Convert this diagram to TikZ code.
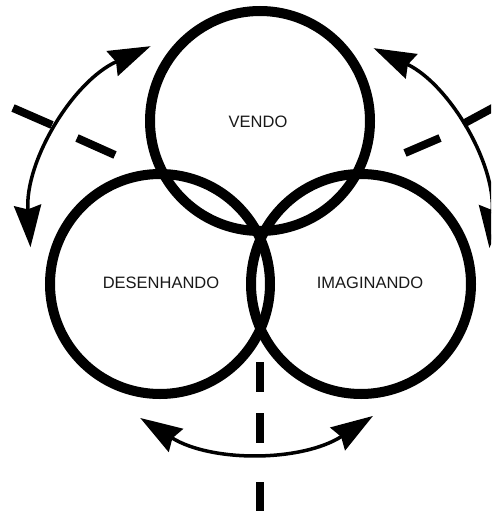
\documentclass[tikz,border=0pt]{standalone}
\usepackage{fontspec}
\setmainfont{Liberation Sans}
\usetikzlibrary{arrows.meta,calc}
\begin{document}
\begin{tikzpicture}[x=1pt,y=-1pt,
  ring/.style={circle, draw=black, line width=10pt, minimum size=220pt, inner sep=0pt},
  lbl/.style={font=\fontsize{16.5}{18}\selectfont, text=black!90, inner sep=0pt},
  cut/.style={line width=8pt, line cap=butt},
  swing/.style={line width=3.5pt, >={Stealth[length=42pt,width=27pt,inset=4pt]}, <->}]
\useasboundingbox (0,0) rectangle (491,511);
\clip (0,0) rectangle (491,511);
\fill[white] (0,0) rectangle (491,511);
% circles
\node[ring] (vendo) at (260,121) {};
\node[ring] (desenhando) at (160,284) {};
\node[ring] (imaginando) at (361,284) {};
% labels
\node[lbl] (tv) at (258,122) {VENDO};
\node[lbl] (td) at (161,283) {DESENHANDO};
\node[lbl] (ti) at (370,283) {IMAGINANDO};
% dashed dividers
\draw[cut] (13,108) -- (52,125);
\draw[cut] (77,138) -- (115,155);
\draw[cut] (405,153) -- (440,138);
\draw[cut] (463,124) -- (500,104);
\draw[cut] (260,362) -- (260,392);
\draw[cut] (260,413) -- (260,443);
\draw[cut] (260,482) -- (260,520);
% curved double arrows
\coordinate (lc) at (235,233);
\coordinate (rc) at (285,233);
\coordinate (bc) at (255,235);
\draw[swing] ($(lc)+(-114.3:205)$) arc[start angle=-114.3, end angle=-184, radius=205];
\draw[swing] ($(rc)+(-64.4:205)$) arc[start angle=-64.4, end angle=4.2, radius=205];
\draw[swing] ($(bc)+(122.1:216)$) arc[start angle=122.1, end angle=56.9, radius=216];
\end{tikzpicture}
\end{document}
